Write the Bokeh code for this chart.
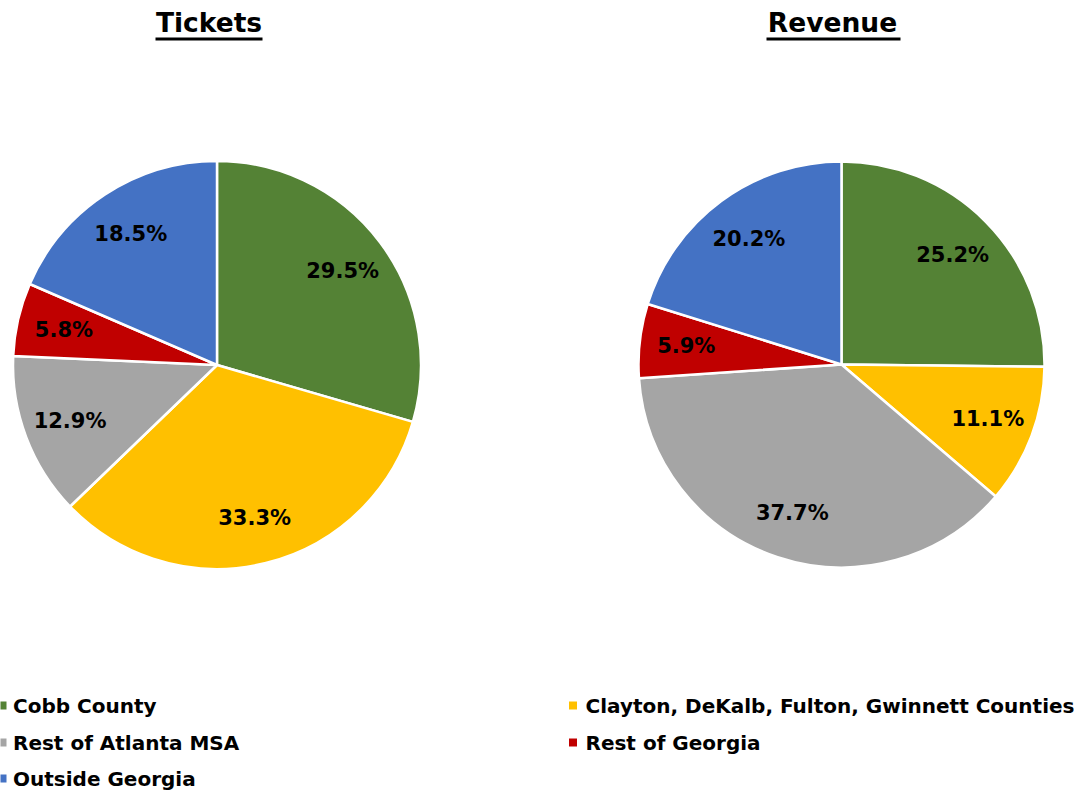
import numpy as np
from bokeh.plotting import figure
from bokeh.models import ColumnDataSource, Range1d
from bokeh.core.properties import value
from bokeh.embed import file_html
from bokeh.resources import INLINE

categories = ["Cobb County", "Clayton, DeKalb, Fulton, Gwinnett Counties",
              "Rest of Atlanta MSA", "Rest of Georgia", "Outside Georgia"]
colors = ["#548235", "#FFC000", "#A5A5A5", "#C00000", "#4472C4"]
tickets = [29.5, 33.3, 12.9, 5.8, 18.5]
revenue = [25.2, 11.1, 37.7, 5.9, 20.2]
titles = ["Tickets", "Revenue"]

W, H = 1074, 792
FONT = "DejaVu Sans"

p = figure(width=W, height=H, output_backend="svg", toolbar_location=None,
           x_range=Range1d(0, W), y_range=Range1d(0, H), min_border=0)
p.axis.visible = False
p.grid.visible = False
p.outline_line_color = None
p.background_fill_color = "white"


def Y(img_y):
    return H - img_y


def X(img_x):
    return img_x


def pie(vals, cx, cy, r):
    v = np.array(vals, dtype=float)
    frac = v / v.sum()
    cum = np.concatenate([[0], np.cumsum(frac)])
    start = np.pi / 2 - 2 * np.pi * cum[:-1]
    end = np.pi / 2 - 2 * np.pi * cum[1:]
    src = ColumnDataSource(dict(start=start, end=end, color=colors))
    p.wedge(x=cx, y=cy, radius=r, start_angle="start", end_angle="end",
            direction="clock", fill_color="color", line_color="white",
            line_width=2.5, source=src)
    mid = (start + end) / 2
    rl = 0.77 * r
    lsrc = ColumnDataSource(dict(x=cx + rl * np.cos(mid), y=cy + rl * np.sin(mid),
                                 t=["%.1f%%" % x for x in vals]))
    p.text(x="x", y="y", text="t", source=lsrc, text_align="center",
           text_baseline="middle", text_font=value(FONT), text_font_style="bold",
           text_font_size="21px", text_color="black")


pie(tickets, X(216.5), Y(364.5), 204)
pie(revenue, X(841), Y(364), 203)

# titles with underline
tsrc = ColumnDataSource(dict(x=[X(208.5), X(832)], y=[Y(22), Y(22)], t=titles))
p.text(x="x", y="y", text="t", source=tsrc, text_align="center",
       text_baseline="middle", text_font=value(FONT), text_font_style="bold",
       text_font_size="26.5px", text_color="black")
p.segment(x0=[X(155), X(766)], y0=[Y(38.5), Y(38.5)],
          x1=[X(262), X(900)], y1=[Y(38.5), Y(38.5)],
          line_color="black", line_width=3)

# legend
lx_sq = [X(2), X(572.5), X(2), X(572.5), X(2)]
lx_tx = [X(12.5), X(585), X(12.5), X(585), X(12.5)]
ly = [Y(705), Y(705), Y(742), Y(742), Y(778)]
lsrc = ColumnDataSource(dict(xs=lx_sq, xt=lx_tx, y=ly, t=categories, c=colors))
p.scatter(x="xs", y="y", marker="square", size=8, fill_color="c",
          line_color=None, source=lsrc)
p.text(x="xt", y="y", text="t", source=lsrc, text_align="left",
       text_baseline="middle", text_font=value(FONT), text_font_style="bold",
       text_font_size="20px", text_color="black")

open("out.html", "w").write(file_html(p, INLINE))
